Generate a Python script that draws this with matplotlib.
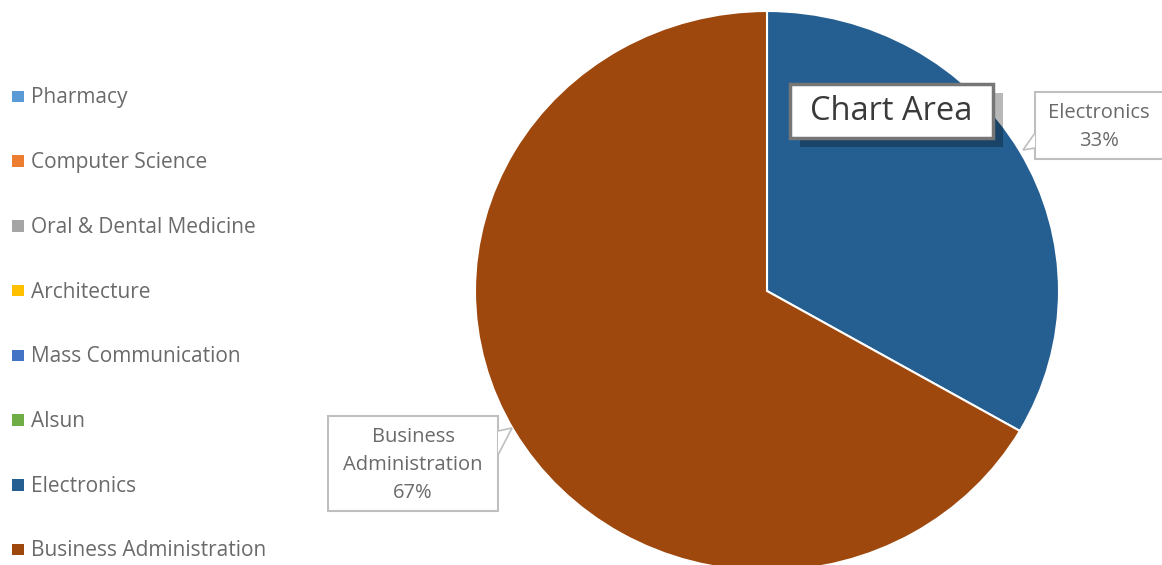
import matplotlib.pyplot as plt
from matplotlib.patches import Rectangle, Polygon

# enrolment share by faculty
faculties = ["Pharmacy", "Computer Science", "Oral & Dental Medicine", "Architecture",
             "Mass Communication", "Alsun", "Electronics", "Business Administration"]
students = [0, 0, 0, 0, 0, 0, 1, 2]
colors = ["#5B9BD5", "#ED7D31", "#A5A5A5", "#FFC000",
          "#4472C4", "#70AD47", "#255E91", "#9E480E"]

W, H = 1162, 565
fig = plt.figure(figsize=(W / 100, H / 100), dpi=100)
plt.rcParams['font.family'] = ['Open Sans', 'DejaVu Sans']
text_grey = "#6a6a6a"


def fx(x):
    return x / W


def fy(y):
    return 1 - y / H


# pie area (slightly wider than tall)
cx, cy, rx, ry = 767, 291, 292, 280
ax = fig.add_axes([fx(cx - rx), fy(cy + ry), 2 * rx / W, 2 * ry / H])
ax.pie(students, colors=colors, startangle=90, counterclock=False,
       wedgeprops=dict(edgecolor="white", linewidth=1.5))
ax.set_aspect("auto")
ax.set_xlim(-1, 1)
ax.set_ylim(-1, 1)
ax.axis("off")

# legend down the left side
for i, (name, c) in enumerate(zip(faculties, colors)):
    y = 96.5 + i * 64.7
    fig.add_artist(Rectangle((fx(12), fy(y + 5.8)), 11.5 / W, 11.5 / H,
                             transform=fig.transFigure, color=c, lw=0))
    fig.text(fx(31), fy(y + 1.5), name, fontsize=15, color=text_grey,
             va="center", ha="left")

total = sum(students)
pct = [f"{v / total:.0%}" for v in students]


def callout(box, tip, base, lines, ys, xc):
    x0, y0, x1, y1 = box
    fig.add_artist(Rectangle((fx(x0), fy(y1)), (x1 - x0) / W, (y1 - y0) / H,
                             transform=fig.transFigure, facecolor="white",
                             edgecolor="#BFBFBF", lw=1.5))
    pts = [(fx(base[0][0]), fy(base[0][1])), (fx(tip[0]), fy(tip[1])),
           (fx(base[1][0]), fy(base[1][1]))]
    fig.add_artist(Polygon(pts, closed=False, transform=fig.transFigure,
                           facecolor="white", edgecolor="#BFBFBF", lw=1.2))
    for t, y in zip(lines, ys):
        fig.text(fx(xc), fy(y + 1.5), t, fontsize=14.5, color=text_grey,
                 ha="center", va="center")


callout((1035, 92, 1170, 159), (1023, 150), [(1035, 133), (1035, 148)],
        [faculties[6], pct[6]], [112, 140], 1099)
callout((328, 416, 498, 511), (512, 428), [(498, 431), (498, 455)],
        ["Business", "Administration", pct[7]], [436, 464, 492], 413)

# hover tooltip
fig.add_artist(Rectangle((fx(800), fy(147)), 203 / W, 54 / H,
                         transform=fig.transFigure, facecolor="black",
                         alpha=0.28, lw=0))
fig.add_artist(Rectangle((fx(790), fy(138)), 203 / W, 54 / H,
                         transform=fig.transFigure, facecolor="white",
                         edgecolor="#767676", lw=2.5))
fig.text(fx(891), fy(111.5), "Chart Area", fontsize=23.5, color="#3a3a3a",
         ha="center", va="center")

fig.savefig("out.png", dpi=100)
